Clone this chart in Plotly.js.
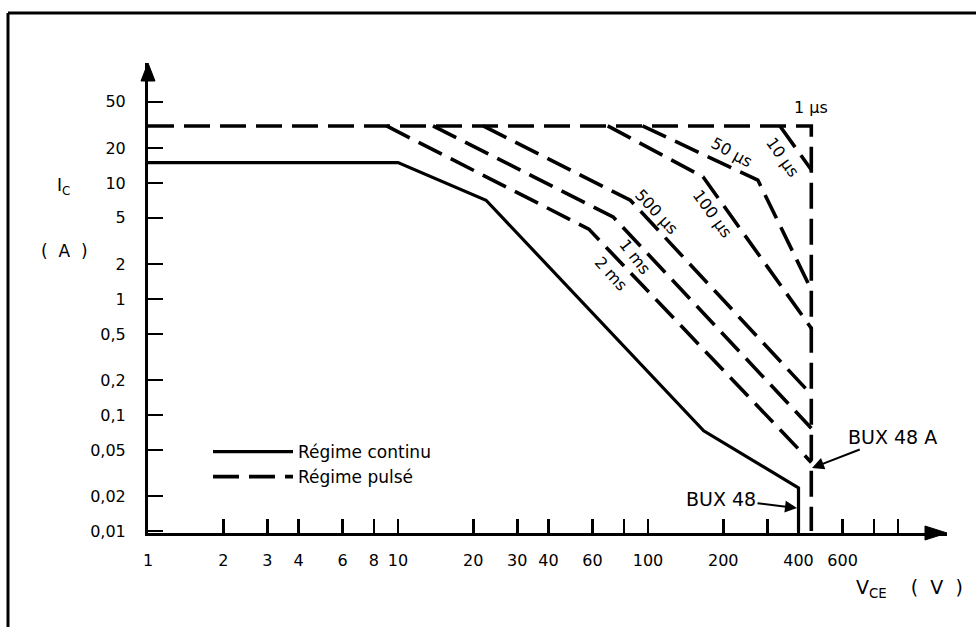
<!DOCTYPE html>
<html>
<head>
<meta charset="utf-8">
<script src="https://cdn.plot.ly/plotly-3.0.1.min.js"></script>
<style>html,body{margin:0;padding:0;background:#fff;}#chart{width:976px;height:627px;}</style>
</head>
<body>
<div id="chart"></div>
<script>
// ---- Data (V_CE in volts, I_C in amperes) ----
const vContinu = [1, 10, 22.5, 167, 400, 400];
const iContinu = [15, 15, 7.1, 0.073, 0.0235, 0.01];

const v1us = [1, 450, 450];
const i1us = [31, 31, 0.01];
const v10us = [337, 450];
const i10us = [31, 13];
const v50us = [95, 275, 450];
const i50us = [31, 10.6, 1.2];
const v100us = [69, 166, 450];
const i100us = [31, 11.3, 0.56];
const v500us = [21.9, 85, 450];
const i500us = [31, 7.1, 0.15];
const v1ms = [13.8, 72.5, 450];
const i1ms = [31, 5.1, 0.077];
const v2ms = [9, 58, 450];
const i2ms = [31, 4, 0.039];

const xTickVals = [1, 2, 3, 4, 6, 8, 10, 20, 30, 40, 60, 100, 200, 400, 600];
const xTickText = ["1", "2", "3", "4", "6", "8", "10", "20", "30", "40", "60", "100", "200", "400", "600"];
const xMinorVals = [80, 300, 800, 1000];
const yTickVals = [0.01, 0.02, 0.05, 0.1, 0.2, 0.5, 1, 2, 5, 10, 20, 50];
const yTickText = ["0,01", "0,02", "0,05", "0,1", "0,2", "0,5", "1", "2", "5", "10", "20", "50"];

const legendContinu = "Régime continu";
const legendPulse = "Régime pulsé";
const curveLabels = ["1 µs", "10 µs", "50 µs", "100 µs", "500 µs", "1 ms", "2 ms"];
const deviceLabels = ["BUX 48", "BUX 48 A"];

// ---- Layout helpers (pixel -> paper) ----
const L = 148, R = 947, T = 63, B = 533;
const W = 976, H = 627;
const px = x => (x - L) / (R - L);
const py = y => (B - y) / (B - T);

const FONT = "DejaVu Sans";
const DASH = "26px,10px";
const solid = {color: "#000", width: 3.2};
const dashed = {color: "#000", width: 3.6, dash: DASH};

const traces = [
  {x: vContinu, y: iContinu, mode: "lines", line: solid, name: legendContinu, legendrank: 1},
  {x: v1us, y: i1us, mode: "lines", line: dashed, name: legendPulse, legendrank: 2},
  {x: v10us, y: i10us, mode: "lines", line: dashed, showlegend: false},
  {x: v50us, y: i50us, mode: "lines", line: dashed, showlegend: false},
  {x: v100us, y: i100us, mode: "lines", line: dashed, showlegend: false},
  {x: v500us, y: i500us, mode: "lines", line: dashed, showlegend: false},
  {x: v1ms, y: i1ms, mode: "lines", line: dashed, showlegend: false},
  {x: v2ms, y: i2ms, mode: "lines", line: dashed, showlegend: false}
];

function txt(text, x, y, angle, size) {
  return {text: text, xref: "paper", yref: "paper", x: px(x), y: py(y),
    xanchor: "center", yanchor: "middle", showarrow: false, textangle: angle || 0,
    font: {family: FONT, size: size || 16, color: "#000"}};
}

const annotations = [
  txt(curveLabels[0], 811, 107, 0),
  txt(curveLabels[1], 783, 157, 55),
  txt(curveLabels[2], 732, 152, 29),
  txt(curveLabels[3], 712, 214, 54),
  txt(curveLabels[4], 656, 212, 47),
  txt(curveLabels[5], 635, 256, 52),
  txt(curveLabels[6], 611, 273, 48),
  txt("I<sub>C</sub>", 63, 186, 0, 17),
  txt("(  A  )", 64, 251, 0, 17),
  txt("V<sub>CE</sub>    (  V  )", 909, 588, 0, 19),
  {text: deviceLabels[0], xref: "paper", yref: "paper", x: px(797), y: py(508),
    ax: -76, ay: -9, showarrow: true, arrowhead: 2, arrowsize: 1.2, arrowwidth: 2, arrowcolor: "#000",
    font: {family: FONT, size: 19, color: "#000"}},
  {text: deviceLabels[1], xref: "paper", yref: "paper", x: px(812), y: py(468),
    ax: 80, ay: -31, showarrow: true, arrowhead: 2, arrowsize: 1.2, arrowwidth: 2, arrowcolor: "#000",
    font: {family: FONT, size: 19, color: "#000"}}
];

const shapes = [
  // frame (top & left borders)
  {type: "line", xref: "paper", yref: "paper", x0: px(8), x1: px(W), y0: py(13), y1: py(13), line: {color: "#000", width: 3}},
  {type: "line", xref: "paper", yref: "paper", x0: px(8), x1: px(8), y0: py(13), y1: py(H), line: {color: "#000", width: 3}},
  // axis arrowheads
  {type: "path", xref: "paper", yref: "paper", fillcolor: "#000", line: {color: "#000", width: 1},
    path: `M ${px(925)} ${py(B - 7)} L ${px(R)} ${py(B)} L ${px(925)} ${py(B + 7)} Z`},
  {type: "path", xref: "paper", yref: "paper", fillcolor: "#000", line: {color: "#000", width: 1},
    path: `M ${px(L - 7)} ${py(81)} L ${px(L)} ${py(T)} L ${px(L + 7)} ${py(81)} Z`}
];

const layout = {
  width: W, height: H,
  margin: {l: L, r: W - R, t: T, b: H - B, pad: 0},
  paper_bgcolor: "#fff", plot_bgcolor: "#fff",
  font: {family: FONT, size: 16, color: "#000"},
  xaxis: {type: "log", range: [0, 3.196], showgrid: false, zeroline: false,
    showline: true, linecolor: "#000", linewidth: 3,
    ticks: "inside", ticklen: 14, tickwidth: 2.5, tickcolor: "#000",
    tickmode: "array", tickvals: xTickVals, ticktext: xTickText,
    minor: {tickmode: "array", tickvals: xMinorVals, ticks: "inside", ticklen: 14, tickwidth: 2.5, tickcolor: "#000", showgrid: false},
    ticklabelstandoff: 11, tickfont: {family: FONT, size: 16, color: "#000"}},
  yaxis: {type: "log", range: [-2.017, 2.034], showgrid: false, zeroline: false,
    showline: true, linecolor: "#000", linewidth: 3,
    ticks: "inside", ticklen: 15, tickwidth: 2.5, tickcolor: "#000",
    tickmode: "array", tickvals: yTickVals, ticktext: yTickText,
    ticklabelstandoff: 16, tickfont: {family: FONT, size: 16, color: "#000"}},
  showlegend: true,
  legend: {x: px(208), y: py(434), xanchor: "left", yanchor: "top",
    bgcolor: "rgba(0,0,0,0)", itemwidth: 80, traceorder: "normal",
    font: {family: FONT, size: 17, color: "#000"}},
  annotations: annotations,
  shapes: shapes
};

Plotly.newPlot("chart", traces, layout, {displayModeBar: false, staticPlot: true});
</script>
</body>
</html>
